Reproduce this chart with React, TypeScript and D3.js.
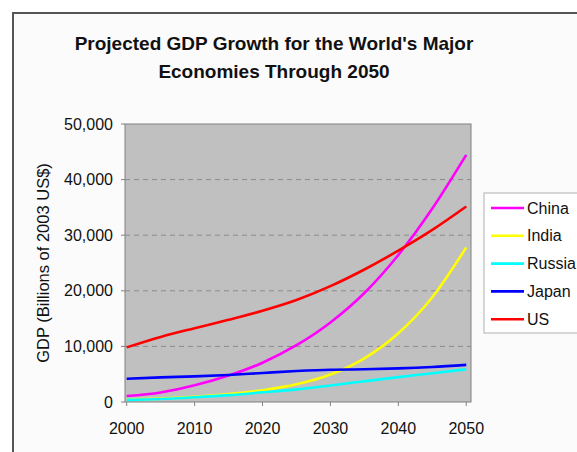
import React from "react";
import * as d3 from "d3";

const years = [2000, 2005, 2010, 2015, 2020, 2025, 2030, 2035, 2040, 2045, 2050];
const china = [1078, 1724, 2998, 4754, 7070, 10213, 14312, 19605, 26439, 34799, 44453];
const india = [469, 604, 929, 1411, 2104, 3174, 4935, 7854, 12367, 18847, 27803];
const russia = [391, 534, 847, 1232, 1741, 2264, 2980, 3734, 4467, 5156, 5870];
const japan = [4176, 4427, 4601, 4858, 5221, 5567, 5810, 5882, 6039, 6297, 6673];
const us = [9825, 11697, 13271, 14786, 16415, 18340, 20833, 23828, 27229, 30956, 35165];

const seriesNames = ["China", "India", "Russia", "Japan", "US"];
const seriesValues = [china, india, russia, japan, us];
const seriesColors = ["#ff00ff", "#ffff00", "#00ffff", "#0000ff", "#ff0000"];

const xTicks = [2000, 2010, 2020, 2030, 2040, 2050];
const yTicks = [0, 10000, 20000, 30000, 40000, 50000];

const W = 577;
const H = 452;
const plot = { left: 125, right: 471, top: 124, bottom: 402 };
const FONT = "'Liberation Sans', Arial, Helvetica, sans-serif";

export default function App() {
  const x = d3.scaleLinear().domain([1999.75, 2050.7]).range([plot.left, plot.right]);
  const y = d3.scaleLinear().domain([0, 50000]).range([plot.bottom, plot.top]);
  const line = d3
    .line<number>()
    .x((_, i) => x(years[i]))
    .y((d) => y(d))
    .curve(d3.curveMonotoneX);
  const fmt = d3.format(",");

  return (
    <svg
      width={W}
      height={H}
      style={{ position: "absolute", left: 0, top: 0, background: "#fff" }}
      fontFamily={FONT}
    >
      <rect x={0} y={0} width={W} height={H} fill="#ffffff" />
      <rect x={13} y={13} width={W + 20} height={H + 20} fill="#fbfbfb" stroke="#555" strokeWidth={2} />

      <text x={274} y={50} textAnchor="middle" fontSize={19} fontWeight="bold" fill="#111">
        Projected GDP Growth for the World's Major
      </text>
      <text x={274} y={78} textAnchor="middle" fontSize={19} fontWeight="bold" fill="#111">
        Economies Through 2050
      </text>

      <rect
        x={plot.left}
        y={plot.top}
        width={plot.right - plot.left}
        height={plot.bottom - plot.top}
        fill="#c0c0c0"
        stroke="#808080"
        strokeWidth={1}
      />

      {yTicks.slice(1, -1).map((t) => (
        <line
          key={"g" + t}
          x1={plot.left}
          x2={plot.right}
          y1={y(t)}
          y2={y(t)}
          stroke="#8a8a8a"
          strokeWidth={1}
          strokeDasharray="5,4"
        />
      ))}

      {yTicks.map((t) => (
        <g key={"y" + t}>
          <line x1={plot.left - 4} x2={plot.left} y1={y(t)} y2={y(t)} stroke="#808080" />
          <text x={113} y={y(t)} dy="0.35em" textAnchor="end" fontSize={16} fill="#111">
            {fmt(t)}
          </text>
        </g>
      ))}

      {xTicks.map((t) => (
        <g key={"x" + t}>
          <line x1={x(t)} x2={x(t)} y1={plot.bottom} y2={plot.bottom + 4} stroke="#808080" />
          <text x={x(t)} y={434} textAnchor="middle" fontSize={16} fill="#111">
            {t}
          </text>
        </g>
      ))}

      <text
        transform={`translate(49,263) rotate(-90)`}
        textAnchor="middle"
        fontSize={16.5}
        fill="#111"
      >
        GDP (Billions of 2003 US$)
      </text>

      {seriesValues.map((vals, i) => (
        <path key={seriesNames[i]} d={line(vals) || ""} fill="none" stroke={seriesColors[i]} strokeWidth={2.6} />
      ))}

      <rect x={484} y={193} width={120} height={140} fill="#ffffff" stroke="#b0b0b0" strokeWidth={1} />
      {seriesNames.map((n, i) => (
        <g key={"l" + n}>
          <line
            x1={491}
            x2={524}
            y1={208 + i * 27.8}
            y2={208 + i * 27.8}
            stroke={seriesColors[i]}
            strokeWidth={2.6}
          />
          <text x={527} y={208 + i * 27.8} dy="0.35em" fontSize={16} fill="#111">
            {n}
          </text>
        </g>
      ))}
    </svg>
  );
}
